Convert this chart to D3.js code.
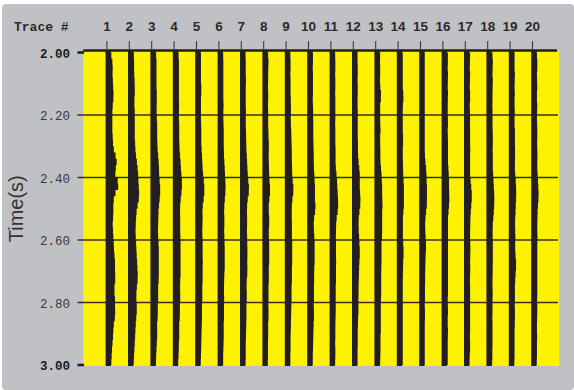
<!DOCTYPE html>
<html>
<head>
<meta charset="utf-8">
<script src="https://cdn.jsdelivr.net/npm/d3@7"></script>
<style>
  html, body { margin: 0; padding: 0; background: #ffffff; }
  svg { display: block; }
</style>
</head>
<body>
<svg id="chart" width="574" height="390"></svg>
<script>
// ---------------- DATA ----------------
const traceNumbers = d3.range(1, 21);
const timeTicks = [2.00, 2.20, 2.40, 2.60, 2.80, 3.00];
const boldTimeTicks = [2.00, 3.00];
const sampleTimes = d3.range(51).map(k => +(2 + k * 0.02).toFixed(2));

// amplitude (positive lobe) of each trace, one value per sample time
const trace1  = [0,1,2,1.7,1.7,2.3,2.3,3,2,1.7,1.3,1.7,1.3,1.7,2,2.3,3.7,5.7,6,4,5,8.7,6,3.3,2.7,2.3,2.7,1.7,2,2.3,2.7,3,3.3,4,4.3,4,4.7,4,3.3,4,4.3,4,4.7,3.3,2.7,2.3,2,1.3,1,0.7,0.3];
const trace2  = [0.5,0.7,1,0.7,1.3,1.3,1.7,1.3,1,1.3,1.7,1.3,1.7,1.3,1.7,2,2.3,3.3,4,4.7,5,5.3,5.7,6,5,3.7,3,2.7,2.3,2.3,2.7,3,3.3,3.7,4,4.3,4.7,4,3.3,3,3.3,3.7,3.3,2.7,2.3,2,1.7,1.3,1,0.7,0.3];
const trace3  = [0.3,0.7,1,0.7,1,0.7,1,1.3,1,1,1,1.3,1.7,1.3,1.7,1.7,2.3,2.7,3.3,3.3,3.7,4.3,4.7,4.3,3.7,3,2.7,2.7,2.3,2.3,2.7,3,3.3,3,3.3,3,3.3,2.7,2.3,2.7,2.3,2,2.3,1.7,1.3,1.7,1.3,1,0.7,0.3,0.3];
const trace4  = [0.3,0.7,1,0.7,1,0.7,1,0.7,1,1,0.7,1,1.3,1,1.3,1.3,1.7,2.3,2.7,3,3.7,4,3.7,3,2.3,2,2,2.3,2,2.3,2.3,2.7,2.3,2.7,2.3,2.7,2.3,2,2,2.3,2,1.7,2,1.3,1,1.3,1,0.7,0.7,0.3,0];
const trace5  = [0.3,0.7,0.3,0.7,0.3,0.7,1,0.7,0.3,0.7,0.3,0.7,0.7,1,0.7,1,1.3,1.7,2,2.3,3,3.7,4,3.7,2.7,2,2,2.3,1.7,2,2,2.3,2,2.3,2.3,2,2.3,2,1.7,2,1.7,1.3,1.7,1.3,1.3,1,1,0.7,0.7,0.3,0.3];
const trace6  = [0.3,0.3,0.7,0.3,0.7,0.3,0.7,0.3,0.7,0.7,0.3,0.7,0.7,1,0.7,1,1,1.3,1.7,2,2.3,2.7,2.7,2.3,1.7,1.3,1.3,1.7,1.3,1.3,1.7,1.7,2,1.7,2,1.7,1.3,1.3,1,1.3,1.3,1,1.3,1,0.7,1,0.7,0.7,0.3,0.3,0.3];
const trace7  = [0.3,0.3,0.7,0.3,0.7,0.7,0.3,0.7,0.3,0.7,0.7,0.3,0.7,0.7,1,1,1.3,1.7,2,2.3,2.7,3.3,4,3,2,1.7,1.7,2,1.7,1.7,2,2,2.3,2,2,2.3,1.7,1.3,1.3,1.7,1.3,1,1.3,1,1,0.7,0.7,0.3,0.7,0.3,0.3];
const trace8  = [0.3,0.7,1,0.3,0.7,0.3,0.3,0.7,0.3,0.3,0.7,0.3,0.7,0.7,1,1.3,1,1,1.3,1.3,1.7,2,2.7,2,1.3,1,1.3,1.7,1.3,1,1.3,1.7,1.3,1.7,1.3,1,1.3,1,0.7,1,0.7,0.7,1,0.7,0.3,0.7,0.3,0.3,0.3,0.3,0];
const trace9  = [0.3,0.3,0.7,0.3,0.3,0.7,0.3,0.7,0.7,1,0.7,0.7,1,1.3,1.3,1.7,1.7,1.7,2,2,2.3,3,3.7,2.7,2,1.7,1.7,1.7,2,1.7,2,2.3,2,2.3,2,1.7,2,1.7,1.3,1.7,1.3,1.3,1,1,0.7,0.7,0.3,0.7,0.3,0.3,0.3];
const trace10 = [0.3,0.7,0.3,0.3,0.7,0.3,0.7,0.3,0.3,0.7,0.7,0.7,1,0.7,1,1,1.3,1.3,1.3,1.7,2,2.3,2.7,2.3,2.7,3.3,2,1.3,1.3,1.7,2,2.3,2,2.3,2,1.7,1.7,1.7,1.3,1.7,1.3,1.3,1.7,1.3,1,1,0.7,0.7,0.3,0.3,0.3];
const trace11 = [0.3,0.3,0.7,0.3,0.3,0.7,0.3,0.3,0.7,0.3,0.7,0.3,0.3,0.7,0.3,0.7,0.7,0.7,0.7,1.3,2,2.3,2.7,3,3.3,3.3,2.3,1.3,1.3,1,1,1.3,1,1.3,1.3,1,1.3,1,0.7,1,0.7,1,0.7,0.7,0.3,0.7,0.3,0.3,0.7,0.3,0.3];
const trace12 = [0.3,0.3,0.3,0.7,0.3,0.3,0.7,0.3,0.3,0.3,0.7,0.3,0.7,0.3,0.7,0.7,0.7,1,1.7,2.3,2.7,2.3,2.7,3,3.3,2.7,1.7,1.3,1.3,1.7,2,2.3,2.7,2.3,2,1.7,1.7,1.3,1.3,1.3,1,1.3,1,0.7,0.7,0.3,0.7,0.3,0.3,0.3,0.3];
const trace13 = [0.7,0.3,0.3,0.7,0.3,0.3,1,1.7,0.7,0.3,0.7,0.3,1,0.7,0.3,0.7,0.7,0.7,1,1.7,2,2.3,2.7,2.3,3,2.7,2.3,2.7,2.3,2.7,2,1.7,2,1.7,2,1.3,1.7,1.3,1.7,1.3,1.3,1,1.3,1,1.3,1,0.7,1,0.7,0.7,0.3];
const trace14 = [0.7,0.7,0.7,0.7,0.7,0.7,0.7,1.7,1,0.7,0.7,0.7,0.7,0.7,1.3,0.7,0.7,0.7,1,1,1.3,1.7,2,1.7,2,1.7,1,0.7,1,0.7,1,1.3,1.7,1.3,1,1,0.7,0.7,0.7,0.7,0.7,0.7,0.7,0.7,0.7,0.7,0.7,0.7,0.7,0.7,0.7];
const trace15 = [0.3,0.3,0.3,0.3,0.3,0.3,0.3,0.3,0.3,0.3,0.3,0.3,0.3,0.3,0.3,0.3,0.3,0.7,1.3,2,2,2.3,2.7,2.3,2.7,2,1.3,0.7,0.7,1,1.3,1.7,1.3,1,1,0.7,0.7,0.7,0.3,0.7,0.3,0.3,0.7,0.3,0.3,0.3,0.3,0.3,0.3,0.3,0.3];
const trace16 = [0.7,1.3,0.7,1,1.3,0.7,1,1.3,0.7,1,0.7,1.3,1,0.7,1.3,1,1.3,1,1.3,1.7,2,2.3,2,2.7,2.3,2,1.3,1,1.3,1,1.3,1,1.3,1,1.3,1,1.3,1,1.3,1,0.7,1.3,1,0.7,1,1.3,0.7,1,0.7,1,0.7];
const trace17 = [0.7,1,0.3,0.7,1,0.3,0.7,1,0.7,0.3,1,0.7,0.7,1,0.7,1,1,0.7,1,0.7,1,1.7,2.3,2.7,2.3,1.7,1.3,1,1,0.7,1,1,1.3,0.7,1,1,0.7,0.7,1,0.7,1,0.7,1,0.7,1,0.7,0.7,1,0.7,0.3,0.3];
const trace18 = [0.7,1,1.3,0.7,1,1.3,0.7,1,0.7,0.7,1,0.7,1,1,1.3,1,1,1.3,1,1.3,1.7,2,2.3,2.7,2.7,2.3,2,1.3,1,1,1,1.3,1,1.3,1,1,1,0.7,1,1,0.7,1,0.7,0.7,1,0.7,1,0.7,0.7,0.7,0.3];
const trace19 = [0.3,0.7,0.3,0.7,1,0.3,0.7,0.7,0.3,0.7,0.7,0.3,0.7,1,0.7,1,1,1,0.7,1,1.3,2,2,2.3,1.7,1.7,1.3,1,1,1.3,1.3,1,1.3,1.7,2.3,1.7,1.3,1,0.7,1,0.7,0.7,1,0.7,0.7,0.3,0.7,0.3,0.7,0.3,0.3];
const trace20 = [0.3,0.7,1,0.7,0.3,1,0.7,0.3,0.7,1,0.3,0.7,0.7,1,0.7,0.7,1,1,0.7,1,1.3,1.7,2,2.3,1.7,1.3,1,1,0.7,1,1,0.7,1,0.7,1,0.7,1,0.7,1,0.7,0.7,1,0.7,0.7,0.3,0.7,0.7,0.3,0.7,0.3,0.3];

const traceAmplitudes = [trace1, trace2, trace3, trace4, trace5, trace6, trace7, trace8, trace9, trace10,
  trace11, trace12, trace13, trace14, trace15, trace16, trace17, trace18, trace19, trace20];

// ---------------- CHART ----------------
const svg = d3.select("#chart");
const W = 574, H = 390;

const COLORS = {
  panel: "#c0c1c5",
  yellow: "#fff200",
  ink: "#231f20",
  grid: "#34321f",
  text: "#2a2a2a"
};

const x = d3.scaleLinear().domain([0, 21.25]).range([83.2, 559.2]);
const y = d3.scaleLinear().domain([2, 3]).range([52.5, 365]);
const bias = 0.235;   // clip level (trace units)
const gain = 0.0446;  // amplitude to trace units

// panel background
svg.append("rect")
  .attr("x", 2).attr("y", 4).attr("width", W - 2).attr("height", H - 4)
  .attr("rx", 4).attr("fill", COLORS.panel);

// plot background
svg.append("rect")
  .attr("x", x(0)).attr("y", 51)
  .attr("width", x(21.25) - x(0)).attr("height", 366 - 51)
  .attr("fill", COLORS.yellow);

// gridlines (interior ticks)
const gridTicks = timeTicks.filter(t => !boldTimeTicks.includes(t));
svg.append("g").selectAll("line").data(gridTicks).join("line")
  .attr("x1", 77.5).attr("x2", 558)
  .attr("y1", d => y(d)).attr("y2", d => y(d))
  .attr("stroke", COLORS.grid).attr("stroke-width", 1.4);

// traces (variable area)
const area = d3.area()
  .curve(d3.curveStep)
  .y(d => y(d.t));

const traceG = svg.append("g");
traceAmplitudes.forEach((amps, idx) => {
  const tr = traceNumbers[idx];
  const pts = sampleTimes.map((t, k) => ({ t, a: amps[k] }));
  traceG.append("path")
    .datum(pts)
    .attr("fill", COLORS.ink)
    .attr("d", area
      .x0(() => x(tr))
      .x1(d => x(tr + bias + gain * d.a)));
});

// extend bands to the plot top/bottom edges
traceG.selectAll("rect.cap").data(traceNumbers).join("rect")
  .attr("x", d => x(d)).attr("width", x(bias) - x(0))
  .attr("y", 50).attr("height", y(2) - 50 + 0.5)
  .attr("fill", COLORS.ink);
traceG.selectAll("rect.capb").data(traceNumbers).join("rect")
  .attr("x", d => x(d)).attr("width", x(bias) - x(0))
  .attr("y", y(3) - 0.5).attr("height", 366 - y(3) + 0.5)
  .attr("fill", COLORS.ink);

// top axis line
svg.append("line")
  .attr("x1", x(0)).attr("x2", 557)
  .attr("y1", 50.5).attr("y2", 50.5)
  .attr("stroke", COLORS.ink).attr("stroke-width", 2.6);

// top ticks
const topAxis = d3.axisTop(x).tickValues(traceNumbers).tickSize(9).tickPadding(10)
  .tickFormat(d => String(d));
const gTop = svg.append("g").attr("transform", "translate(0.8,50)").call(topAxis);
gTop.select(".domain").remove();
gTop.selectAll(".tick line").attr("stroke", "#3a3a3a").attr("stroke-width", 1.1);
gTop.selectAll(".tick text")
  .attr("fill", COLORS.text)
  .attr("font-family", "'Liberation Sans', Arial, sans-serif")
  .attr("font-weight", "bold")
  .attr("font-size", "13.5px")
  .attr("dy", 0)
  .attr("y", -19);

// left axis
const leftAxis = d3.axisLeft(y).tickValues(timeTicks).tickSize(0).tickPadding(0)
  .tickFormat(d3.format(".2f"));
const gLeft = svg.append("g").attr("transform", "translate(70,0)").call(leftAxis);
gLeft.select(".domain").remove();
gLeft.selectAll(".tick text")
  .attr("x", 0)
  .attr("fill", d => boldTimeTicks.includes(d) ? "#1a1a1a" : "#3a3a3a")
  .attr("font-family", "'Liberation Mono', 'DejaVu Sans Mono', monospace")
  .attr("font-weight", d => boldTimeTicks.includes(d) ? "bold" : "normal")
  .attr("font-size", "12.5px")
  .attr("dy", "0.36em");

// bold end ticks
svg.append("g").selectAll("line").data(boldTimeTicks).join("line")
  .attr("x1", 77.5).attr("x2", 84)
  .attr("y1", d => y(d)).attr("y2", d => y(d))
  .attr("stroke", COLORS.ink).attr("stroke-width", 2.6);

// Trace # label
svg.append("text")
  .attr("x", 14).attr("y", 31)
  .attr("font-family", "'Liberation Mono', 'DejaVu Sans Mono', monospace")
  .attr("font-weight", "bold")
  .attr("font-size", "13px")
  .attr("fill", COLORS.text)
  .text("Trace #");

// y title
svg.append("text")
  .attr("transform", `translate(23,${(y(2) + y(3)) / 2}) rotate(-90)`)
  .attr("text-anchor", "middle")
  .attr("font-family", "'Liberation Sans', Arial, sans-serif")
  .attr("font-size", "20px")
  .attr("fill", "#333")
  .text("Time(s)");
</script>
</body>
</html>
